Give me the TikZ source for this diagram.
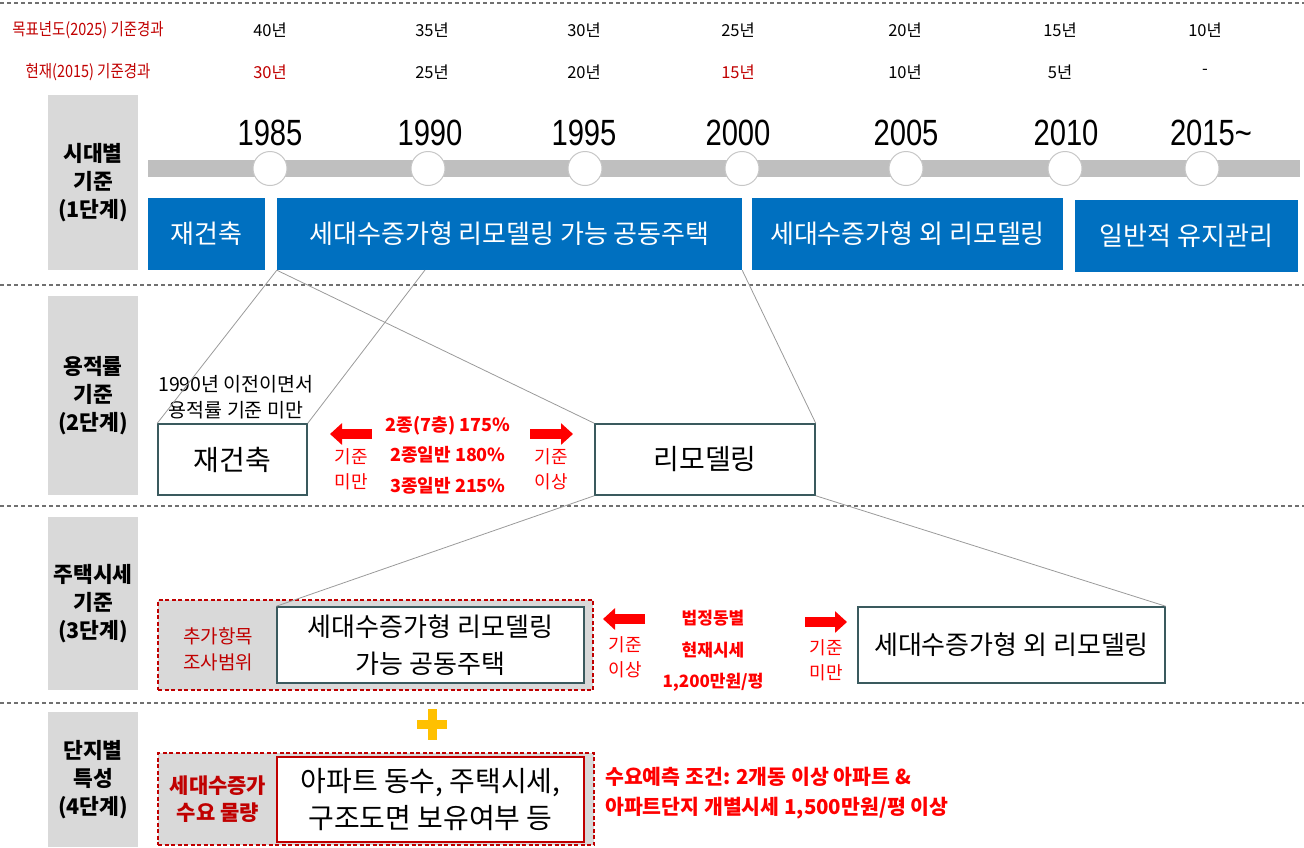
\documentclass[tikz,border=0pt]{standalone}
\usepackage{fontspec}
\setmainfont{Noto Sans CJK KR}
\newfontfamily\nar[FakeStretch=0.85]{Noto Sans CJK KR}
\newfontfamily\yr[FakeStretch=0.8]{Liberation Sans}
\usetikzlibrary{arrows.meta}
\definecolor{hdred}{HTML}{C00000}
\definecolor{brred}{HTML}{FF0000}
\definecolor{bblue}{HTML}{0070C0}
\definecolor{lgray}{HTML}{D9D9D9}
\definecolor{barc}{HTML}{BFBFBF}
\definecolor{slate}{HTML}{3A5A5E}
\definecolor{conn}{HTML}{9A9A9A}
\definecolor{gold}{HTML}{FFC000}
\definecolor{sepc}{HTML}{707070}
\newcommand\fsz[2]{\fontsize{#1}{#2}\selectfont}
\tikzset{
  sepline/.style={draw=sepc, line width=1.1pt, dash pattern=on 4pt off 3pt},
  stagelab/.style={fill=lgray, draw=none, minimum width=90pt, inner sep=0pt, align=center, font=\bfseries\fsz{21.5}{28}},
  hdrtxt/.style={font=\fsz{16.5}{20}, inner sep=0pt},
  yeartxt/.style={font=\yr\fsz{36.5}{40}, inner sep=0pt},
  tlcirc/.style={circle, fill=white, draw=black!22, line width=1pt, minimum size=34pt, inner sep=0pt},
  bluebox/.style={fill=bblue, draw=none, text=white, minimum height=72pt, inner sep=0pt, font=\fsz{26}{30}},
  whitebox/.style={fill=white, draw=slate, line width=1.5pt, inner sep=0pt, align=center, font=\fsz{26}{37}},
  connline/.style={draw=conn, line width=0.8pt},
  redarr/.style={draw=brred, line width=10pt, -{Triangle[length=12pt,width=21pt]}},
  smallred/.style={text=brred, font=\fsz{18}{25}, align=center, inner sep=0pt},
  boldred/.style={text=brred, font=\bfseries\fsz{18}{30.5}, align=center, inner sep=0pt},
  redzone/.style={fill=lgray, draw=hdred, line width=1.4pt, dash pattern=on 4pt off 2.5pt},
}
\begin{document}
\begin{tikzpicture}[x=1pt,y=-1pt]
\useasboundingbox (0,0) rectangle (1304,847);
% separators
\draw[sepline] (0,3) -- (1304,3);
\draw[sepline] (0,285) -- (1304,285);
\draw[sepline] (0,506) -- (1304,506);
\draw[sepline] (0,703) -- (1304,703);

% header rows
\node[hdrtxt, font=\nar\fsz{17}{20}, text=hdred] (h1lab) at (88,30) {목표년도(2025) 기준경과};
\node[hdrtxt, font=\nar\fsz{17}{20}, text=hdred] (h2lab) at (88,72) {현재(2015) 기준경과};
\foreach \x/\a/\b/\c in {270/40년/30년/hdred, 432/35년/25년/black, 584/30년/20년/black, 738/25년/15년/hdred, 905/20년/10년/black, 1060/15년/5년/black, 1205/10년/-/black}{
  \node[hdrtxt] at (\x,30) {\a};
  \node[hdrtxt, text=\c] at (\x,72) {\b};
}

% stage labels
\node[stagelab, minimum height=175pt] (s1) at (93,182.5) {시대별\\기준\\(1단계)};
\node[stagelab, minimum height=199pt] (s2) at (93,395.5) {용적률\\기준\\(2단계)};
\node[stagelab, minimum height=173pt] (s3) at (93,603.5) {주택시세\\기준\\(3단계)};
\node[stagelab, minimum height=135pt] (s4) at (93,779.5) {단지별\\특성\\(4단계)};

% timeline
\fill[barc] (148,160) rectangle (1300,177);
\foreach \x/\y in {270/1985, 428/1990, 585/1995, 742/2000, 906/2005, 1065/2010, 1202/2015}{
  \node[tlcirc] (c\y) at (\x,168.5) {};
}
\foreach \x/\y in {270/1985, 430/1990, 584/1995, 738/2000, 906/2005, 1066/2010}{
  \node[yeartxt] (y\y) at (\x,133) {\y};
}
\node[yeartxt] (y2015) at (1211,133) {2015\textasciitilde};

% blue boxes
\node[bluebox, minimum width=117pt] (b1) at (206.5,234) {재건축};
\node[bluebox, minimum width=465pt] (b2) at (509.5,234) {세대수증가형 리모델링 가능 공동주택};
\node[bluebox, minimum width=311pt] (b3) at (907.5,234) {세대수증가형 외 리모델링};
\node[bluebox, minimum width=223pt] (b4) at (1186.5,236) {일반적 유지관리};

% stage 2
\node[whitebox, font=\fsz{28}{37}, minimum width=149pt, minimum height=71pt] (r1) at (232.5,459.5) {재건축};
\node[whitebox, font=\fsz{28}{37}, minimum width=220pt, minimum height=71pt] (r2) at (705,459.5) {리모델링};
\node[font=\fsz{19.5}{26}, align=center, inner sep=0pt] (r1note) at (236,397) {1990년 이전이면서\\용적률 기준 미만};
\coordinate (b2a) at (425,270);
\draw[connline] (b2.south west) -- (r1.north west);
\draw[connline] (b2a) -- (r1.north east);
\draw[connline] (b2.south west) -- (r2.north west);
\draw[connline] (b2.south east) -- (r2.north east);
\node[boldred] (far) at (448,455) {2종(7층) 175\%\\2종일반 180\%\\3종일반 215\%};
\coordinate (a1s) at (372,434); \coordinate (a1e) at (330,434);
\coordinate (a2s) at (530,434); \coordinate (a2e) at (573,434);
\draw[redarr] (a1s) -- (a1e);
\draw[redarr] (a2s) -- (a2e);
\node[smallred] (l1) at (351,469) {기준\\미만};
\node[smallred] (l2) at (551,469) {기준\\이상};

% stage 3
\node[redzone, minimum width=435pt, minimum height=90pt] (d3) at (375.5,645) {};
\node[whitebox, minimum width=307pt, minimum height=76pt] (h1) at (430.5,645) {세대수증가형 리모델링\\가능 공동주택};
\node[whitebox, minimum width=307pt, minimum height=76pt] (h2) at (1011.5,645) {세대수증가형 외 리모델링};
\node[text=hdred, font=\fsz{19}{26}, align=center, inner sep=0pt] (add) at (218,649) {추가항목\\조사범위};
\draw[connline] (r2.south west) -- (h1.north west);
\draw[connline] (r2.south east) -- (h2.north east);
\coordinate (a3s) at (645,619); \coordinate (a3e) at (603,619);
\coordinate (a4s) at (805,622); \coordinate (a4e) at (847,622);
\draw[redarr] (a3s) -- (a3e);
\draw[redarr] (a4s) -- (a4e);
\node[smallred] (l3) at (625,657) {기준\\이상};
\node[smallred] (l4) at (826,660) {기준\\미만};
\node[boldred, font=\bfseries\fsz{17}{31.5}] (price) at (713,651) {법정동별\\현재시세\\1,200만원/평};

% stage 4
\fill[gold] (417,720) rectangle (447,729);
\fill[gold] (427.5,709) rectangle (436.5,740);
\node[redzone, minimum width=436pt, minimum height=92pt] (d4) at (376,799) {};
\node[whitebox, draw=hdred, minimum width=307pt, minimum height=85pt, font=\fsz{28}{37}] (q1) at (430.5,799.5) {아파트 동수, 주택시세,\\구조도면 보유여부 등};
\node[text=hdred, font=\bfseries\fsz{21}{27}, align=center, inner sep=0pt] (dem) at (218,799) {세대수증가\\수요 물량};
\node[text=brred, font=\bfseries\fsz{20.5}{30}, align=left, inner sep=0pt, anchor=west] (cond) at (605,793) {수요예측 조건: 2개동 이상 아파트 \&\\아파트단지 개별시세 1,500만원/평 이상};
\end{tikzpicture}
\end{document}
